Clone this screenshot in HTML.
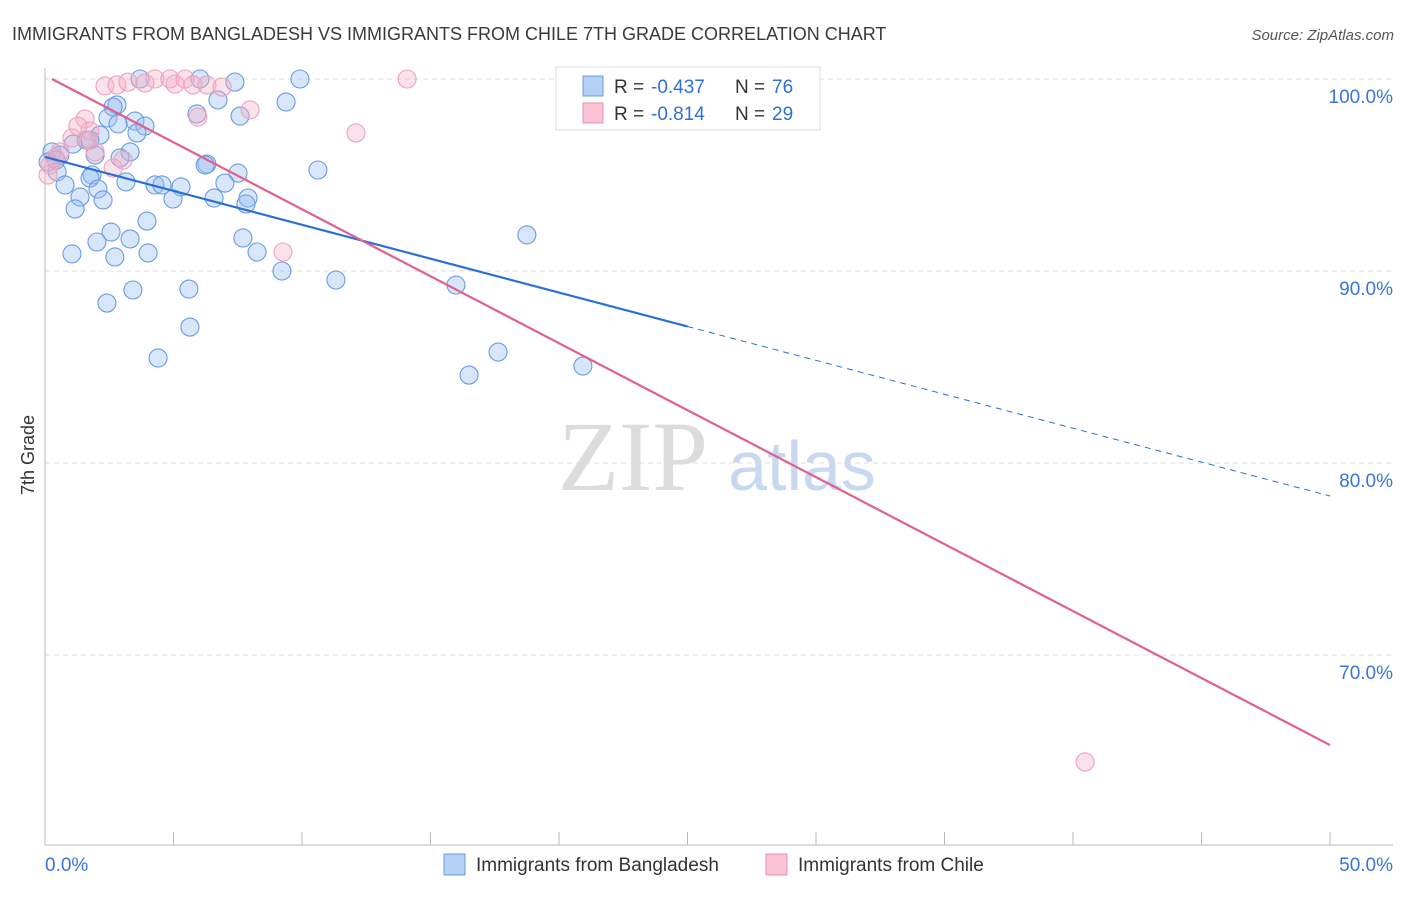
<!DOCTYPE html>
<html><head><meta charset="utf-8"><style>
body{margin:0;background:#fff;font-family:"Liberation Sans",sans-serif;}
</style></head><body>
<svg id="c" width="1406" height="892" xmlns="http://www.w3.org/2000/svg" font-family="Liberation Sans, sans-serif">
<text x="12" y="40" font-size="18" fill="#3a3a3a">IMMIGRANTS FROM BANGLADESH VS IMMIGRANTS FROM CHILE 7TH GRADE CORRELATION CHART</text>
<text x="1394" y="40" font-size="15" fill="#555" font-style="italic" text-anchor="end">Source: ZipAtlas.com</text>
<text x="34" y="455" font-size="18" fill="#333" transform="rotate(-90 34 455)" text-anchor="middle">7th Grade</text>
<g><text x="633" y="490" font-size="100" fill="#dcdcdc" style="font-family:'Liberation Serif',serif" text-anchor="middle">ZIP</text><text x="802" y="490" font-size="70" fill="#c8d8f0" text-anchor="middle">atlas</text></g>
<g id="grid"></g><g id="axes"></g><g id="pts"></g><g id="lines"></g>
<g>
<rect x="556" y="67" width="264" height="63" fill="#fff" stroke="#ddd"/>
<rect x="583" y="76" width="20" height="20" fill="#b5cff5" stroke="#6b9be0"/>
<rect x="583" y="103" width="20" height="20" fill="#f9c3d3" stroke="#e892ad"/>
<text x="614" y="93" font-size="19" fill="#333">R =</text><text x="651" y="93" font-size="19" fill="#2e6fd8">-0.437</text>
<text x="735" y="93" font-size="19" fill="#333">N =</text><text x="772" y="93" font-size="19" fill="#2e6fd8">76</text>
<text x="614" y="120" font-size="19" fill="#333">R =</text><text x="651" y="120" font-size="19" fill="#2e6fd8">-0.814</text>
<text x="735" y="120" font-size="19" fill="#333">N =</text><text x="772" y="120" font-size="19" fill="#2e6fd8">29</text>
</g>
<g>
<rect x="444" y="854" width="21" height="21" fill="#b5cff5" stroke="#6b9be0"/>
<text x="476" y="871" font-size="19" fill="#333">Immigrants from Bangladesh</text>
<rect x="766" y="854" width="21" height="21" fill="#f9c3d3" stroke="#e892ad"/>
<text x="798" y="871" font-size="19" fill="#333">Immigrants from Chile</text>
</g>
</svg>
<script>
const yTicks=[100,90,80,70];
const yTickLabels=["100.0%","90.0%","80.0%","70.0%"];
const xTickLabels=["0.0%","50.0%"];
const blueX=[3.70,6.03,7.39,9.92,2.80,2.65,6.73,9.38,5.91,7.59,2.45,3.50,3.89,2.84,2.14,3.58,1.60,1.75,1.09,3.31,0.27,0.58,1.95,2.92,0.12,0.43,6.30,6.23,10.62,7.51,0.47,1.83,1.75,3.15,0.78,4.28,4.55,5.29,7.00,2.06,1.36,4.98,2.26,6.58,7.90,7.82,1.17,3.97,2.57,18.75,2.02,3.31,7.70,1.05,2.72,4.01,8.25,9.22,11.32,15.99,3.42,5.60,2.41,5.64,17.63,4.40,16.50,20.93];
const blueY=[100,100,99.84,100,98.65,98.54,98.91,98.80,98.18,98.07,97.97,97.81,97.55,97.66,97.08,97.19,96.82,96.82,96.61,96.20,96.20,96.04,96.04,95.89,95.68,95.78,95.57,95.52,95.26,95.10,95.16,95.0,94.84,94.64,94.48,94.48,94.48,94.38,94.58,94.27,93.85,93.75,93.70,93.80,93.80,93.49,93.23,92.60,92.03,91.88,91.51,91.67,91.72,90.89,90.73,90.94,90.99,90.0,89.53,89.27,89.01,89.06,88.33,87.08,85.78,85.47,84.58,85.05];
const pinkX=[2.33,2.80,3.23,3.89,4.28,4.86,5.06,5.45,5.76,6.30,6.89,14.09,7.98,5.95,12.10,1.56,1.28,1.75,1.05,1.95,1.67,0.58,0.39,0.19,0.12,3.04,2.65,9.26,40.47];
const pinkY=[99.64,99.69,99.84,99.79,100,100,99.74,100,99.69,99.69,99.58,100,98.39,98.02,97.19,97.92,97.55,97.29,96.93,96.20,96.82,96.20,95.89,95.52,95.0,95.78,95.36,90.99,64.43];
const blueFit=[95.94,78.28], blueSolidEnd=25.0;
const pinkFit=[100.19,65.31];
const X=v=>45+v/50*1285, Y=v=>79+(100-v)*19.2;
const NS="http://www.w3.org/2000/svg";
function mk(t,a,p){const e=document.createElementNS(NS,t);for(const k in a)e.setAttribute(k,a[k]);document.getElementById(p).appendChild(e);return e;}
yTicks.forEach((t,i)=>{
 const g=mk('line',{x1:45,x2:1393,y1:Y(t),y2:Y(t),stroke:'#ddd','stroke-dasharray':'5,4'},'grid');
 
 
 const l=mk('text',{x:1393,y:Y(t)+24,'font-size':19,fill:'#3a74d8','text-anchor':'end'},'axes');
 l.textContent=yTickLabels[i];
 
 
});
const ax=mk('line',{x1:45,x2:45,y1:68,y2:845,stroke:'#bbb'},'axes');


const bx=mk('line',{x1:45,x2:1393,y1:845,y2:845,stroke:'#bbb'},'axes');


for(let i=0;i<=10;i++){const t=mk('line',{x1:X(i*5),x2:X(i*5),y1:832,y2:845,stroke:'#bbb'},'axes');
 
 }
[[0,'start',45],[1,'end',1393]].forEach(([i,a,x])=>{const t=mk('text',{x:x,y:871,'font-size':19,fill:'#3a74d8','text-anchor':a},'axes');t.textContent=xTickLabels[i];
 
 });
blueX.forEach((x,i)=>{const c=mk('circle',{cx:X(x),cy:Y(blueY[i]),r:9,fill:'rgba(150,188,238,0.38)',stroke:'#6a9be2','stroke-width':1.1},'pts');
 
 });
pinkX.forEach((x,i)=>{const c=mk('circle',{cx:X(x),cy:Y(pinkY[i]),r:9,fill:'rgba(245,175,198,0.38)',stroke:'#eda2bb','stroke-width':1.1},'pts');
 
 });
const bf=x=>blueFit[0]+(blueFit[1]-blueFit[0])*x/50;
const l1=mk('line',{x1:X(0),y1:Y(bf(0)),x2:X(blueSolidEnd),y2:Y(bf(blueSolidEnd)),stroke:'#2a6fd6','stroke-width':2.2},'lines');


const l2=mk('line',{x1:X(blueSolidEnd),y1:Y(bf(blueSolidEnd)),x2:X(50),y2:Y(bf(50)),stroke:'#2a6fd6','stroke-width':1,'stroke-dasharray':'6,5'},'lines');


const pf=x=>pinkFit[0]+(pinkFit[1]-pinkFit[0])*x/50;
const l3=mk('line',{x1:X(0.27),y1:Y(pf(0.27)),x2:X(50),y2:Y(pf(50)),stroke:'#e0608e','stroke-width':2.2},'lines');


</script>
</body></html>
